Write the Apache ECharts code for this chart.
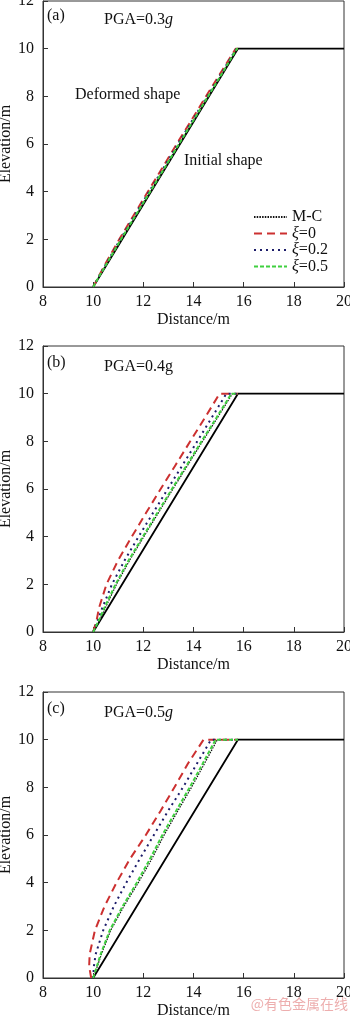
<!DOCTYPE html>
<html>
<head>
<meta charset="utf-8">
<script src="https://cdn.jsdelivr.net/npm/echarts@6/dist/echarts.min.js"></script>
<style>
  html, body { margin: 0; padding: 0; background: #fff; }
  #main { width: 350px; height: 1015px; }
</style>
</head>
<body>
<div id="main"></div>
<script>
// elevation levels (m) used by every deformed profile
var elev = [0, 0.5, 1, 2, 3, 4, 5, 6, 7, 8, 9, 10];

// initial slope: toe at 10 m, crest at 15.77 m, 60 degrees
var initX = [10, 15.77, 20];
var initY = [0, 10, 10];
var crestX = 15.77;

// (a) PGA=0.3g  - distance of the deformed face at each elevation
var mcA   = [10, 10.28, 10.56, 11.12, 11.70, 12.28, 12.86, 13.43, 14.01, 14.59, 15.17, 15.74];
var xi0A  = [10, 10.25, 10.50, 11.04, 11.61, 12.18, 12.76, 13.33, 13.92, 14.50, 15.09, 15.68];
var xi02A = [10, 10.26, 10.53, 11.08, 11.65, 12.23, 12.81, 13.38, 13.96, 14.55, 15.13, 15.71];
var xi05A = [10, 10.27, 10.55, 11.11, 11.69, 12.27, 12.85, 13.42, 14.00, 14.58, 15.16, 15.73];

// (b) PGA=0.4g
var mcB   = [10, 10.26, 10.48, 10.93, 11.45, 12.02, 12.60, 13.18, 13.77, 14.36, 14.96, 15.55];
var xi0B  = [10, 10.14, 10.23, 10.53, 10.99, 11.54, 12.11, 12.69, 13.28, 13.87, 14.46, 15.04];
var xi02B = [10, 10.19, 10.36, 10.75, 11.25, 11.81, 12.39, 12.97, 13.56, 14.15, 14.73, 15.31];
var xi05B = [10, 10.23, 10.44, 10.89, 11.41, 11.98, 12.56, 13.14, 13.73, 14.32, 14.92, 15.51];

// (c) PGA=0.5g
var mcC   = [10, 10.17, 10.33, 10.70, 11.22, 11.80, 12.34, 12.83, 13.37, 13.92, 14.44, 14.95];
var xi0C  = [9.92, 9.84, 9.86, 10.07, 10.45, 10.93, 11.47, 12.10, 12.68, 13.24, 13.78, 14.40];
var xi02C = [10, 10.03, 10.10, 10.40, 10.82, 11.32, 11.86, 12.42, 12.98, 13.58, 14.14, 14.70];
var xi05C = [10, 10.15, 10.30, 10.66, 11.17, 11.74, 12.27, 12.76, 13.30, 13.85, 14.37, 14.88];

var xTicks = [8, 20, 2];
var yTicks = [0, 12, 2];
var names = ['M-C', 'ξ=0', 'ξ=0.2', 'ξ=0.5'];
var pga = ['0.3', '0.4', '0.5'];
var tags = ['(a)', '(b)', '(c)'];

var FONT = '"Liberation Serif", "DejaVu Serif", serif';
var gridTops = [1, 346, 692];
var tagOffset = [7, 9, 9];

function pairs(xs, ys) {
  var arr = [];
  for (var i = 0; i < xs.length; i++) arr.push([xs[i], ys[i]]);
  return arr;
}

// deformed face, then along the crest to the original crest point
function face(xs) {
  var d = pairs(xs, elev);
  d.push([crestX, 10]);
  return d;
}

var styles = {
  'M-C':   { color: '#111111', width: 1.2, type: [1.5, 1.2] },
  'ξ=0':   { color: '#cc3030', width: 2,   type: [8, 5] },
  'ξ=0.2': { color: '#1c1c6a', width: 2,   type: [2, 4] },
  'ξ=0.5': { color: '#3fd03f', width: 2,   type: [4, 2] }
};

var panels = [
  { 'M-C': mcA, 'ξ=0': xi0A, 'ξ=0.2': xi02A, 'ξ=0.5': xi05A },
  { 'M-C': mcB, 'ξ=0': xi0B, 'ξ=0.2': xi02B, 'ξ=0.5': xi05B },
  { 'M-C': mcC, 'ξ=0': xi0C, 'ξ=0.2': xi02C, 'ξ=0.5': xi05C }
];

var grids = [], xAxes = [], yAxes = [], series = [], graphics = [];
var drawOrder = ['M-C', 'ξ=0', 'ξ=0.2', 'ξ=0.5'];

for (var p = 0; p < 3; p++) {
  grids.push({
    left: 43, right: 6, top: gridTops[p], height: 286,
    containLabel: false, outerBoundsMode: 'none',
    show: true, borderColor: '#333', borderWidth: 1
  });
  xAxes.push({
    type: 'value', gridIndex: p,
    min: xTicks[0], max: xTicks[1], interval: xTicks[2],
    name: 'Distance/m', nameLocation: 'middle', nameGap: 25, nameMoveOverlap: false,
    nameTextStyle: { fontFamily: FONT, fontSize: 16, color: '#111' },
    axisLine: { show: true, lineStyle: { color: '#333', width: 1 } },
    axisTick: { show: true, inside: true, length: 5, lineStyle: { color: '#333' } },
    axisLabel: { fontFamily: FONT, fontSize: 16, color: '#111', margin: 7 },
    splitLine: { show: false }
  });
  yAxes.push({
    type: 'value', gridIndex: p,
    min: yTicks[0], max: yTicks[1], interval: yTicks[2],
    name: 'Elevation/m', nameLocation: 'middle', nameGap: 29, nameMoveOverlap: false,
    nameTextStyle: { fontFamily: FONT, fontSize: 16, color: '#111' },
    axisLine: { show: true, lineStyle: { color: '#333', width: 1 } },
    axisTick: { show: true, inside: true, length: 5, lineStyle: { color: '#333' } },
    axisLabel: { fontFamily: FONT, fontSize: 16, color: '#111', margin: 9 },
    splitLine: { show: false }
  });

  // initial shape
  series.push({
    type: 'line', xAxisIndex: p, yAxisIndex: p,
    data: pairs(initX, initY), symbol: 'none', silent: true,
    lineStyle: { color: '#000', width: 1.8, type: 'solid' }
  });
  for (var k = 0; k < drawOrder.length; k++) {
    var n = drawOrder[k];
    var s = styles[n];
    series.push({
      name: n, type: 'line', xAxisIndex: p, yAxisIndex: p,
      data: face(panels[p][n]), symbol: 'none',
      itemStyle: { color: s.color },
      lineStyle: { color: s.color, width: s.width, type: s.type }
    });
  }

  // panel tag and PGA label
  graphics.push({
    type: 'text', left: 47, top: gridTops[p] + tagOffset[p],
    style: { text: tags[p], font: '16px ' + FONT, fill: '#111' }
  });
  graphics.push({
    type: 'text', left: 104, top: gridTops[p] + tagOffset[p] + 4,
    style: {
      text: '{n|PGA=' + pga[p] + '}{g|g}',
      rich: {
        n: { font: '16px ' + FONT, fill: '#111' },
        g: { font: (p === 1 ? '' : 'italic ') + '16px ' + FONT, fill: '#111' }
      }
    }
  });
}

graphics.push({
  type: 'text', left: 75, top: 87,
  style: { text: 'Deformed shape', font: '16px ' + FONT, fill: '#111' }
});
graphics.push({
  type: 'text', left: 184, top: 153,
  style: { text: 'Initial shape', font: '16px ' + FONT, fill: '#111' }
});
graphics.push({
  type: 'text', right: 2, top: 997,
  style: { text: '@有色金属在线', font: '14px "Noto Sans CJK SC"', fill: 'rgba(225,120,120,0.6)' }
});

var chart = echarts.init(document.getElementById('main'));
chart.setOption({
  animation: false,
  backgroundColor: '#fff',
  grid: grids,
  xAxis: xAxes,
  yAxis: yAxes,
  legend: {
    data: names,
    orient: 'vertical',
    left: 253, top: 209,
    itemWidth: 33, itemHeight: 12, itemGap: 0.5,
    padding: 0,
    itemStyle: { color: 'rgba(0,0,0,0)', borderColor: 'rgba(0,0,0,0)', borderWidth: 0 },
    formatter: function (name) {
      if (name.charAt(0) === 'ξ') return '{i|ξ}{n|' + name.slice(1) + '}';
      return '{n|' + name + '}';
    },
    textStyle: {
      rich: {
        n: { fontFamily: FONT, fontSize: 16, lineHeight: 16, color: '#111' },
        i: { fontFamily: FONT, fontSize: 16, lineHeight: 16, fontStyle: 'italic', color: '#111' }
      }
    }
  },
  graphic: graphics,
  series: series
});
</script>
</body>
</html>
